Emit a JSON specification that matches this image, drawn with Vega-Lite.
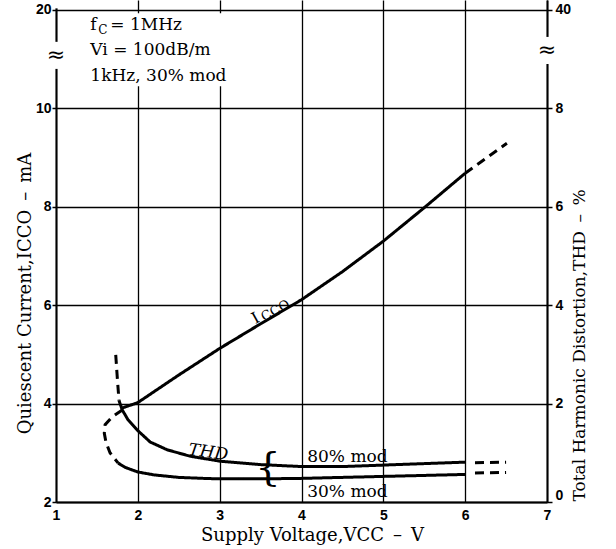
{
 "$schema": "https://vega.github.io/schema/vega-lite/v6.json",
 "width": 491,
 "height": 502,
 "autosize": {"type": "none"},
 "padding": {"left": 56, "top": 0, "right": 69, "bottom": 47},
 "background": "white",
 "config": {
  "view": {"stroke": null},
  "axis": {
   "domainColor": "#000", "domainWidth": 2,
   "gridColor": "#000", "gridWidth": 1.3, "gridOpacity": 1,
   "tickColor": "#000", "tickWidth": 1.5,
   "labelColor": "#000", "labelFont": "Liberation Sans", "labelFontWeight": "bold", "labelFontSize": 14,
   "titleColor": "#000", "titleFont": "DejaVu Serif", "titleFontWeight": "normal", "titleFontSize": 18
  },
  "text": {"font": "DejaVu Serif", "color": "#000"}
 },
 "datasets": {
  "icco": [
   {"seg": "i1", "kind": "solid", "o": 1, "x": 1.81, "y": 3.91},
   {"seg": "i1", "kind": "solid", "o": 2, "x": 2.0, "y": 4.02},
   {"seg": "i1", "kind": "solid", "o": 3, "x": 2.5, "y": 4.58},
   {"seg": "i1", "kind": "solid", "o": 4, "x": 3.0, "y": 5.12},
   {"seg": "i1", "kind": "solid", "o": 5, "x": 3.5, "y": 5.62},
   {"seg": "i1", "kind": "solid", "o": 6, "x": 4.0, "y": 6.11},
   {"seg": "i1", "kind": "solid", "o": 7, "x": 4.5, "y": 6.68},
   {"seg": "i1", "kind": "solid", "o": 8, "x": 5.0, "y": 7.3},
   {"seg": "i1", "kind": "solid", "o": 9, "x": 5.5, "y": 7.98},
   {"seg": "i1", "kind": "solid", "o": 10, "x": 6.0, "y": 8.68},
   {"seg": "i2", "kind": "dashed", "o": 1, "x": 6.0, "y": 8.68},
   {"seg": "i2", "kind": "dashed", "o": 2, "x": 6.51, "y": 9.29}
  ],
  "thd": [
   {"seg": "a1", "kind": "dashed", "o": 1, "x": 1.73, "y": 2.99},
   {"seg": "a1", "kind": "dashed", "o": 2, "x": 1.75, "y": 2.5},
   {"seg": "a1", "kind": "dashed", "o": 3, "x": 1.77, "y": 2.06},
   {"seg": "a2", "kind": "solid", "o": 1, "x": 1.77, "y": 2.06},
   {"seg": "a2", "kind": "solid", "o": 2, "x": 1.81, "y": 1.87},
   {"seg": "a2", "kind": "solid", "o": 3, "x": 1.88, "y": 1.67},
   {"seg": "a2", "kind": "solid", "o": 4, "x": 2.0, "y": 1.45},
   {"seg": "a2", "kind": "solid", "o": 5, "x": 2.15, "y": 1.22},
   {"seg": "a2", "kind": "solid", "o": 6, "x": 2.36, "y": 1.06},
   {"seg": "a2", "kind": "solid", "o": 7, "x": 2.64, "y": 0.93},
   {"seg": "a2", "kind": "solid", "o": 8, "x": 3.0, "y": 0.83},
   {"seg": "a2", "kind": "solid", "o": 9, "x": 3.5, "y": 0.76},
   {"seg": "a2", "kind": "solid", "o": 10, "x": 4.0, "y": 0.72},
   {"seg": "a2", "kind": "solid", "o": 11, "x": 4.5, "y": 0.72},
   {"seg": "a2", "kind": "solid", "o": 12, "x": 5.0, "y": 0.75},
   {"seg": "a2", "kind": "solid", "o": 13, "x": 5.5, "y": 0.78},
   {"seg": "a2", "kind": "solid", "o": 14, "x": 6.0, "y": 0.81},
   {"seg": "a3", "kind": "dashed", "o": 1, "x": 6.12, "y": 0.8},
   {"seg": "a3", "kind": "dashed", "o": 2, "x": 6.5, "y": 0.81},
   {"seg": "b1", "kind": "dashed", "o": 1, "x": 1.81, "y": 1.87},
   {"seg": "b1", "kind": "dashed", "o": 2, "x": 1.68, "y": 1.72},
   {"seg": "b1", "kind": "dashed", "o": 3, "x": 1.6, "y": 1.57},
   {"seg": "b1", "kind": "dashed", "o": 4, "x": 1.59, "y": 1.4},
   {"seg": "b1", "kind": "dashed", "o": 5, "x": 1.61, "y": 1.22},
   {"seg": "b1", "kind": "dashed", "o": 6, "x": 1.66, "y": 1.0},
   {"seg": "b1", "kind": "dashed", "o": 7, "x": 1.76, "y": 0.79},
   {"seg": "b2", "kind": "solid", "o": 1, "x": 1.76, "y": 0.79},
   {"seg": "b2", "kind": "solid", "o": 2, "x": 1.85, "y": 0.7},
   {"seg": "b2", "kind": "solid", "o": 3, "x": 2.0, "y": 0.61},
   {"seg": "b2", "kind": "solid", "o": 4, "x": 2.2, "y": 0.55},
   {"seg": "b2", "kind": "solid", "o": 5, "x": 2.5, "y": 0.5},
   {"seg": "b2", "kind": "solid", "o": 6, "x": 2.8, "y": 0.48},
   {"seg": "b2", "kind": "solid", "o": 7, "x": 3.0, "y": 0.47},
   {"seg": "b2", "kind": "solid", "o": 8, "x": 3.5, "y": 0.47},
   {"seg": "b2", "kind": "solid", "o": 9, "x": 4.0, "y": 0.48},
   {"seg": "b2", "kind": "solid", "o": 10, "x": 4.5, "y": 0.5},
   {"seg": "b2", "kind": "solid", "o": 11, "x": 5.0, "y": 0.52},
   {"seg": "b2", "kind": "solid", "o": 12, "x": 5.5, "y": 0.54},
   {"seg": "b2", "kind": "solid", "o": 13, "x": 6.0, "y": 0.56},
   {"seg": "b3", "kind": "dashed", "o": 1, "x": 6.12, "y": 0.59},
   {"seg": "b3", "kind": "dashed", "o": 2, "x": 6.5, "y": 0.6}
  ],
  "notes": [
   {"x": 1.42, "y": 11.08, "label": "Vi = 100dB/m"},
   {"x": 1.42, "y": 10.55, "label": "1kHz, 30% mod"},
   {"x": 4.07, "y": 2.81, "label": "80% mod"},
   {"x": 4.07, "y": 2.1, "label": "30% mod"}
  ]
 },
 "layer": [
  {
   "layer": [
    {
     "data": {"name": "icco"},
     "mark": {"type": "line", "strokeWidth": 3, "color": "#000"},
     "encoding": {
      "x": {"field": "x", "type": "quantitative",
       "scale": {"domain": [1, 7], "nice": false, "zero": false},
       "axis": {"orient": "bottom", "values": [1, 2, 3, 4, 5, 6, 7], "format": "d", "grid": true, "ticks": false, "labelPadding": 6, "labelFlush": false,
        "title": "Supply Voltage,VCC\u2002–\u2002V", "titleX": 256, "titleY": 38, "titleBaseline": "alphabetic"}},
      "y": {"field": "y", "type": "quantitative",
       "scale": {"domain": [2, 12.2], "nice": false, "zero": false},
       "axis": {"orient": "left", "values": [2, 4, 6, 8, 10, 12], "grid": true, "tickSize": 4, "labelPadding": 1,
        "labelExpr": "datum.value == 12 ? '20' : datum.label",
        "title": "Quiescent Current,ICCO\u2002–\u2002mA", "titleAngle": 270, "titleX": -26, "titleY": 293, "titleBaseline": "alphabetic"}},
      "detail": {"field": "seg"},
      "order": {"field": "o", "type": "quantitative"},
      "strokeDash": {"field": "kind", "type": "nominal", "scale": {"domain": ["solid", "dashed"], "range": [[1, 0], [9, 6]]}, "legend": null}
     }
    },
    {
     "data": {"values": [{}]},
     "mark": {"type": "rect", "fill": "white"},
     "encoding": {
      "x": {"datum": 1.05, "type": "quantitative"}, "x2": {"datum": 3.4},
      "y": {"datum": 10.45, "type": "quantitative"}, "y2": {"datum": 11.93}
     }
    },
    {
     "data": {"values": [{}]},
     "mark": {"type": "rule", "color": "white", "strokeWidth": 6},
     "encoding": {
      "x": {"datum": 1, "type": "quantitative"},
      "y": {"datum": 10.8, "type": "quantitative"}, "y2": {"datum": 11.35}
     }
    },
    {
     "data": {"values": [{}]},
     "mark": {"type": "rule", "color": "white", "strokeWidth": 6},
     "encoding": {
      "x": {"datum": 1, "type": "quantitative"},
      "y": {"datum": 12.03, "type": "quantitative"}, "y2": {"datum": 12.2}
     }
    },
    {
     "data": {"values": [{}]},
     "mark": {"type": "rule", "color": "white", "strokeWidth": 6},
     "encoding": {
      "x": {"datum": 7, "type": "quantitative"},
      "y": {"datum": 10.9, "type": "quantitative"}, "y2": {"datum": 11.45}
     }
    },
    {
     "data": {"values": [{}]},
     "mark": {"type": "text", "text": "≈", "font": "DejaVu Sans", "fontSize": 22, "baseline": "middle", "align": "center"},
     "encoding": {
      "x": {"datum": 1, "type": "quantitative"},
      "y": {"datum": 11.08, "type": "quantitative"}
     }
    },
    {
     "data": {"values": [{}]},
     "mark": {"type": "text", "text": "≈", "font": "DejaVu Sans", "fontSize": 22, "baseline": "middle", "align": "center"},
     "encoding": {
      "x": {"datum": 7, "type": "quantitative"},
      "y": {"datum": 11.18, "type": "quantitative"}
     }
    },
    {
     "data": {"name": "notes"},
     "mark": {"type": "text", "fontSize": 17, "align": "left", "baseline": "alphabetic"},
     "encoding": {
      "x": {"field": "x", "type": "quantitative"},
      "y": {"field": "y", "type": "quantitative"},
      "text": {"field": "label"}
     }
    },
    {
     "data": {"values": [{}]},
     "mark": {"type": "text", "text": "f", "fontSize": 17, "align": "left", "baseline": "alphabetic"},
     "encoding": {"x": {"datum": 1.42, "type": "quantitative"}, "y": {"datum": 11.59, "type": "quantitative"}}
    },
    {
     "data": {"values": [{}]},
     "mark": {"type": "text", "text": "C", "fontSize": 12, "align": "left", "baseline": "alphabetic", "dx": 8, "dy": 4},
     "encoding": {"x": {"datum": 1.42, "type": "quantitative"}, "y": {"datum": 11.59, "type": "quantitative"}}
    },
    {
     "data": {"values": [{}]},
     "mark": {"type": "text", "text": "= 1MHz", "fontSize": 17, "align": "left", "baseline": "alphabetic", "dx": 20},
     "encoding": {"x": {"datum": 1.42, "type": "quantitative"}, "y": {"datum": 11.59, "type": "quantitative"}}
    },
    {
     "data": {"values": [{}]},
     "mark": {"type": "text", "text": "THD", "fontSize": 17, "fontStyle": "italic", "align": "left", "baseline": "alphabetic", "angle": 8},
     "encoding": {"x": {"datum": 2.61, "type": "quantitative"}, "y": {"datum": 2.96, "type": "quantitative"}}
    },
    {
     "data": {"values": [{}]},
     "mark": {"type": "text", "text": "{", "fontSize": 40, "align": "center", "baseline": "middle"},
     "encoding": {"x": {"datum": 3.59, "type": "quantitative"}, "y": {"datum": 2.69, "type": "quantitative"}}
    },
    {
     "data": {"values": [{}]},
     "mark": {"type": "text", "text": "I", "fontSize": 16, "align": "left", "baseline": "alphabetic", "angle": 331, "dx": -24},
     "encoding": {"x": {"datum": 3.69, "type": "quantitative"}, "y": {"datum": 5.85, "type": "quantitative"}}
    },
    {
     "data": {"values": [{}]},
     "mark": {"type": "text", "text": "CCO", "fontSize": 13, "align": "left", "baseline": "alphabetic", "angle": 331, "dx": -15, "dy": 2},
     "encoding": {"x": {"datum": 3.69, "type": "quantitative"}, "y": {"datum": 5.85, "type": "quantitative"}}
    }
   ]
  },
  {
   "layer": [
    {
     "data": {"name": "thd"},
     "mark": {"type": "line", "strokeWidth": 3, "color": "#000"},
     "encoding": {
      "x": {"field": "x", "type": "quantitative", "scale": {"domain": [1, 7], "nice": false, "zero": false},
       "axis": {"orient": "bottom", "values": [1, 2, 3, 4, 5, 6, 7], "format": "d", "grid": true, "ticks": false, "labelPadding": 6, "labelFlush": false,
        "title": "Supply Voltage,VCC\u2002–\u2002V", "titleX": 256, "titleY": 38, "titleBaseline": "alphabetic"}},
      "y": {"field": "y", "type": "quantitative",
       "scale": {"domain": [0, 10.2], "nice": false, "zero": false},
       "axis": {"orient": "right", "values": [0, 2, 4, 6, 8, 10], "grid": false, "tickSize": 5, "labelPadding": 3,
        "labelExpr": "datum.value == 10 ? '40' : datum.label",
        "labelBaseline": {"condition": {"test": "datum.value == 0", "value": "bottom"}, "value": "middle"},
        "title": "Total Harmonic Distortion,THD\u2002–\u2002%", "titleFontSize": 17, "titleAngle": 270, "titleX": 37, "titleY": 345, "titleBaseline": "alphabetic"}},
      "detail": {"field": "seg"},
      "order": {"field": "o", "type": "quantitative"},
      "strokeDash": {"field": "kind", "type": "nominal", "scale": {"domain": ["solid", "dashed"], "range": [[1, 0], [9, 6]]}, "legend": null}
     }
    }
   ]
  }
 ],
 "resolve": {"scale": {"y": "independent"}}
}
